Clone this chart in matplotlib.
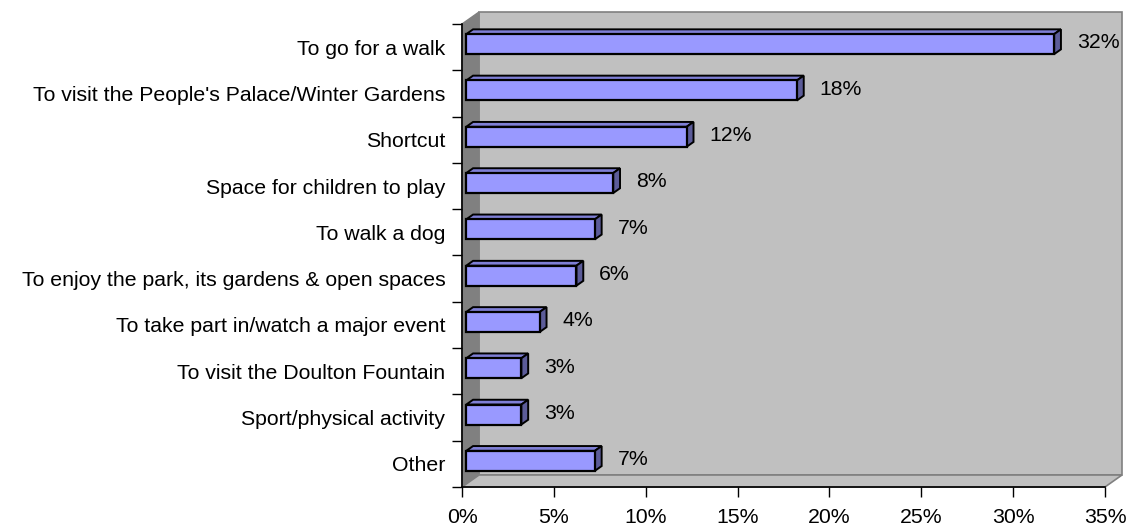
import matplotlib.pyplot as plt
from matplotlib.patches import Polygon

plt.rcParams['font.family'] = ['Liberation Sans', 'DejaVu Sans']

# Reasons for visiting the park (share of respondents, %)
reasons = ["To go for a walk",
           "To visit the People's Palace/Winter Gardens",
           "Shortcut",
           "Space for children to play",
           "To walk a dog",
           "To enjoy the park, its gardens & open spaces",
           "To take part in/watch a major event",
           "To visit the Doulton Fountain",
           "Sport/physical activity",
           "Other"]
shares = [32, 18, 12, 8, 7, 6, 4, 3, 3, 7]
x_ticks = [0, 5, 10, 15, 20, 25, 30, 35]

FS = 15.3
n = len(reasons)
centers = [n - 0.5 - i for i in range(n)]

fig = plt.figure(figsize=(11.36, 5.27), dpi=100)
ax = fig.add_axes([462 / 1136, 40 / 527, 643 / 1136, 463 / 527])
ax.set_xlim(0, 35)
ax.set_ylim(0, n)
ax.patch.set_visible(False)

# depth of the 3d box, in data units
DX = 17 * 35 / 643
DY = 12 * n / 463

# back wall, side wall and floor
wall = Polygon([(DX, DY), (35 + DX, DY), (35 + DX, n + DY), (DX, n + DY)],
               closed=True, fc='#c0c0c0', ec='#808080', lw=1.2, zorder=0, clip_on=False)
side = Polygon([(0, 0), (DX, DY), (DX, n + DY), (0, n)],
               closed=True, fc='#808080', ec='#808080', lw=1, zorder=0.5, clip_on=False)
floor = Polygon([(0, 0), (35, 0), (35 + DX, DY), (DX, DY)],
                closed=True, fc='#c0c0c0', ec='#808080', lw=1.2, zorder=0.6, clip_on=False)
for p in (wall, side, floor):
    ax.add_patch(p)

# bars: front face with top and side faces for depth
f0, f1 = 0.25, 0.65
h = 20 / 46.3
ax.barh([c + f0 * DY for c in centers], shares, left=f0 * DX, height=h,
        color='#9999ff', edgecolor='black', linewidth=1.6, zorder=3)
for c, v in zip(centers, shares):
    y0 = c - h / 2 + f0 * DY
    y1 = c + h / 2 + f0 * DY
    x0 = f0 * DX
    x1 = v + f0 * DX
    ddx = (f1 - f0) * DX
    ddy = (f1 - f0) * DY
    top = Polygon([(x0, y1), (x1, y1), (x1 + ddx, y1 + ddy), (x0 + ddx, y1 + ddy)],
                  closed=True, fc='#7f7fd6', ec='black', lw=1.4, zorder=2.8, clip_on=False)
    right = Polygon([(x1, y0), (x1 + ddx, y0 + ddy), (x1 + ddx, y1 + ddy), (x1, y1)],
                    closed=True, fc='#5c5c99', ec='black', lw=1.4, zorder=2.8, clip_on=False)
    ax.add_patch(top)
    ax.add_patch(right)
    ax.annotate(f"{v}%", xy=(v, c), xytext=(19.5, 3), textcoords='offset points',
                ha='left', va='center', fontsize=FS, color='black', zorder=4)

# axes and ticks
for s in ('top', 'right'):
    ax.spines[s].set_visible(False)
ax.spines['left'].set_linewidth(1.2)
ax.spines['bottom'].set_linewidth(1.2)

ax.set_xticks(x_ticks)
ax.set_xticklabels([f"{t}%" for t in x_ticks], fontsize=FS)
ax.tick_params(axis='x', direction='out', length=7.2, width=1, pad=8)

ax.set_yticks(range(n + 1))
ax.set_yticklabels([])
ax.set_yticks(centers, minor=True)
ax.set_yticklabels(reasons, minor=True, fontsize=FS)
ax.tick_params(axis='y', which='major', direction='out', length=7.2, width=1)
ax.tick_params(axis='y', which='minor', length=0, pad=12)

fig.savefig('out.png', dpi=100)
